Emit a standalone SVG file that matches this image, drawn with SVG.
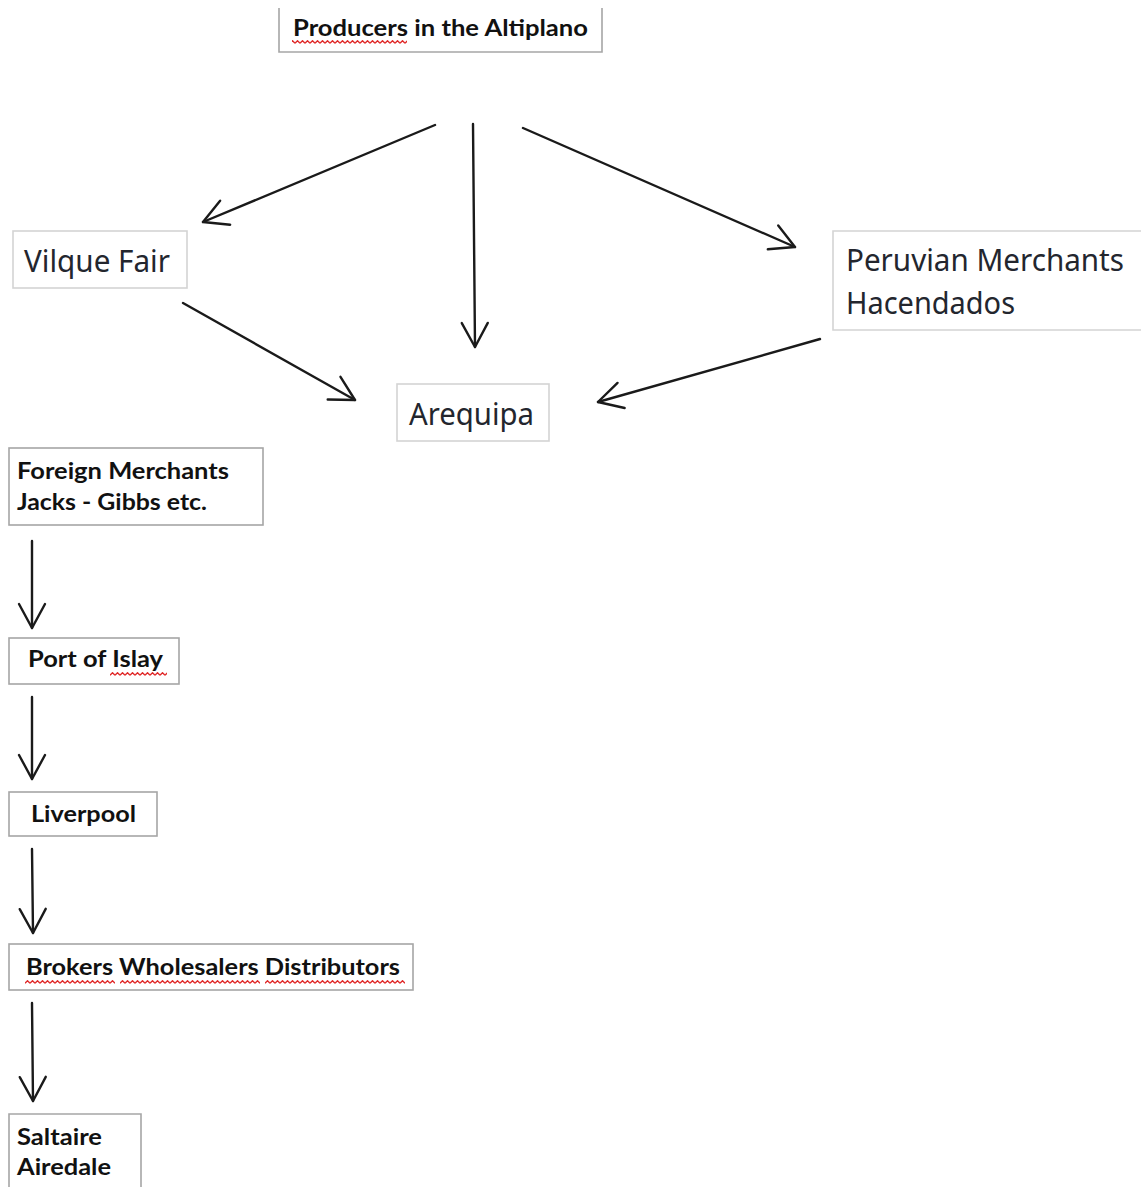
<svg xmlns="http://www.w3.org/2000/svg" width="1141" height="1187" viewBox="0 0 1141 1187">
<style>
.bx{fill:#fff;stroke:#a6a6a6;stroke-width:1.6}
.lt{fill:#fff;stroke:#d4d4d4;stroke-width:1.6}
.open{fill:none;stroke:#a6a6a6;stroke-width:1.6}
.openlt{fill:none;stroke:#d4d4d4;stroke-width:1.6}
.b{font-family:Lato,"Liberation Sans",sans-serif;font-weight:bold;font-size:23px;fill:#111}
.r{font-family:"Noto Sans","Open Sans",sans-serif;font-size:30px;fill:#23262e}
.c{fill:none;stroke:#1a1a1a;stroke-width:2.4;stroke-linecap:round}
</style>
<defs>
<marker id="ah" markerUnits="userSpaceOnUse" markerWidth="40" markerHeight="40" viewBox="-30 -20 40 40" refX="0" refY="0" orient="auto">
<path d="M-24,-13 L0,0 L-24,13" fill="none" stroke="#1a1a1a" stroke-width="2.4" stroke-linecap="round" stroke-linejoin="round"/>
</marker>
<pattern id="sq" patternUnits="userSpaceOnUse" x="0" y="0" width="5" height="4">
<path d="M0,3.3 L2.5,0.7 L5,3.3" fill="none" stroke="#e02828" stroke-width="1.3"/>
</pattern>
</defs>
<g id="n-producers">
<rect x="279" y="8" width="323" height="44" fill="#fff"/>
<path class="open" d="M279,8 V52 H602 V8"/>
<text class="b" x="293" y="36" textLength="295" lengthAdjust="spacingAndGlyphs">Producers in the Altiplano</text>
<rect x="292" y="40" width="115" height="4" fill="url(#sq)"/>
</g>
<g id="n-vilque">
<rect class="lt" x="13" y="231" width="174" height="57"/>
<text class="r" x="24" y="272" textLength="146" lengthAdjust="spacingAndGlyphs">Vilque Fair</text>
</g>
<g id="n-peruvian">
<rect x="833" y="231" width="308" height="99" fill="#fff"/>
<path class="openlt" d="M1141,231 H833 V330 H1141"/>
<text class="r" x="846" y="271" textLength="278" lengthAdjust="spacingAndGlyphs">Peruvian Merchants</text>
<text class="r" x="846" y="314" textLength="169" lengthAdjust="spacingAndGlyphs">Hacendados</text>
</g>
<g id="n-arequipa">
<rect class="lt" x="397" y="384" width="152" height="57"/>
<text class="r" x="409" y="425" textLength="125" lengthAdjust="spacingAndGlyphs">Arequipa</text>
</g>
<g id="n-foreign">
<rect class="bx" x="9" y="448" width="254" height="77"/>
<text class="b" x="17" y="479" textLength="212" lengthAdjust="spacingAndGlyphs">Foreign Merchants</text>
<text class="b" x="17" y="510" textLength="190" lengthAdjust="spacingAndGlyphs">Jacks - Gibbs etc.</text>
</g>
<g id="n-islay">
<rect class="bx" x="9" y="638" width="170" height="46"/>
<text class="b" x="28" y="667" textLength="135" lengthAdjust="spacingAndGlyphs">Port of Islay</text>
<rect x="110" y="672" width="57" height="4" fill="url(#sq)"/>
</g>
<g id="n-liverpool">
<rect class="bx" x="9" y="792" width="148" height="44"/>
<text class="b" x="31" y="822" textLength="105" lengthAdjust="spacingAndGlyphs">Liverpool</text>
</g>
<g id="n-brokers">
<rect class="bx" x="9" y="944" width="404" height="46"/>
<text class="b" x="26" y="975" textLength="374" lengthAdjust="spacingAndGlyphs">Brokers Wholesalers Distributors</text>
<rect x="25" y="980" width="90" height="4" fill="url(#sq)"/>
<rect x="120" y="980" width="140" height="4" fill="url(#sq)"/>
<rect x="265" y="980" width="140" height="4" fill="url(#sq)"/>
</g>
<g id="n-saltaire">
<rect x="9" y="1114" width="132" height="73" fill="#fff"/>
<path class="open" d="M9,1187 V1114 H141 V1187"/>
<text class="b" x="17" y="1145" textLength="85" lengthAdjust="spacingAndGlyphs">Saltaire</text>
<text class="b" x="17" y="1175" textLength="94" lengthAdjust="spacingAndGlyphs">Airedale</text>
</g>
<g id="connectors">
<path class="c" d="M435,125 L203,222" marker-end="url(#ah)"/>
<path class="c" d="M473,124 L475,347" marker-end="url(#ah)"/>
<path class="c" d="M523,128 L795,247" marker-end="url(#ah)"/>
<path class="c" d="M183,303 L355,400" marker-end="url(#ah)"/>
<path class="c" d="M820,339 L598,402" marker-end="url(#ah)"/>
<path class="c" d="M32,541 L32,628" marker-end="url(#ah)"/>
<path class="c" d="M32,697 L32,779" marker-end="url(#ah)"/>
<path class="c" d="M32,849 L33,933" marker-end="url(#ah)"/>
<path class="c" d="M32,1003 L33,1101" marker-end="url(#ah)"/>
</g>
</svg>
